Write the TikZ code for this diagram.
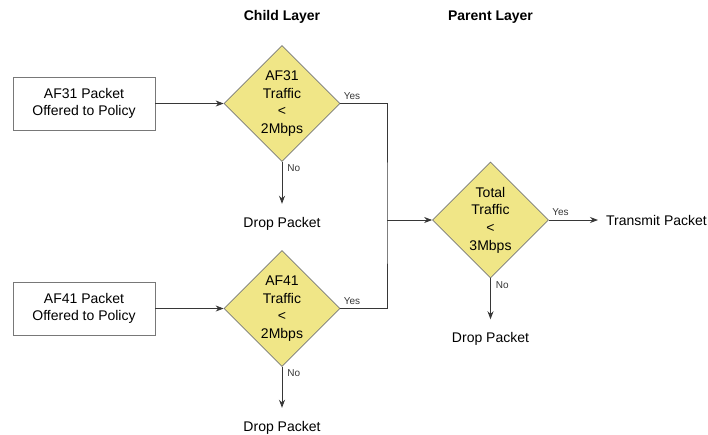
\documentclass[tikz,border=0pt]{standalone}
\usepackage{fontspec}
\setmainfont{Liberation Sans}
\usetikzlibrary{shapes.geometric,positioning,arrows.meta}
\definecolor{decisionfill}{RGB}{240,230,135}
\definecolor{linegray}{RGB}{55,55,55}
\definecolor{framegray}{RGB}{120,120,120}

\begin{document}
\begin{tikzpicture}[x=1pt,y=1pt,shorten >=0pt,on grid,auto,
        >={Stealth[length=8pt,width=6pt]},
        every node/.style={font=\fontsize{14}{17.7}\selectfont},
        packet/.style={draw=framegray,line width=0.7pt,minimum width=142pt,minimum height=53pt,align=center},
        decision/.style={diamond,draw=framegray,line width=0.7pt,fill=decisionfill,minimum width=116pt,minimum height=116pt,inner sep=-12pt,align=center},
        outcome/.style={inner sep=1pt},
        layer/.style={font=\fontsize{14}{17}\selectfont\bfseries},
        answer/.style={font=\fontsize{10}{12}\selectfont,inner sep=1pt},
        yeslabel/.style={answer,above right,xshift=2pt,yshift=3pt},
        nolabel/.style={answer,below right,xshift=4pt,yshift=-1.5pt}]
        \useasboundingbox (0,0) rectangle (708,-434);
        \node[decision] (af31) at (282,-103.5) {AF31\\Traffic\\<\\2Mbps};
        \node[packet] (in31) [left=198pt of af31] {AF31 Packet\\Offered to Policy};
        \node[decision] (af41) [below=205pt of af31] {AF41\\Traffic\\<\\2Mbps};
        \node[packet] (in41) [left=198pt of af41] {AF41 Packet\\Offered to Policy};
        \node[decision] (total) [below right=116.5pt and 208.5pt of af31] {Total\\Traffic\\<\\3Mbps};
        \coordinate[left=103.5pt of total] (merge);
        \node[outcome] (drop31) [below=120pt of af31] {Drop Packet};
        \node[outcome] (drop41) [below=119pt of af41] {Drop Packet};
        \node[outcome] (droptotal) [below=119pt of total] {Drop Packet};
        \node[outcome] (transmit) [right=166pt of total] {Transmit Packet};
        \node[layer] (child) [above=86.5pt of af31] {Child Layer};
        \node[layer] (parent) [above=203pt of total] {Parent Layer};
        \draw[linegray,line width=0.8pt] (af31.east) node[yeslabel] {Yes} -| (merge)
            |- (af41.east) node[yeslabel] {Yes};
        \path[->,linegray,line width=0.8pt]
            (in31) edge (af31)
            (in41) edge (af41)
            (merge) edge (total)
            (af31) edge [shorten >=12pt] node[nolabel,pos=0] {No} (drop31)
            (af41) edge [shorten >=12pt] node[nolabel,pos=0] {No} (drop41)
            (total) edge [shorten >=12pt] node[nolabel,pos=0] {No} (droptotal)
                    edge [shorten >=7pt] node[yeslabel,pos=0] {Yes} (transmit);
\end{tikzpicture}
\end{document}
